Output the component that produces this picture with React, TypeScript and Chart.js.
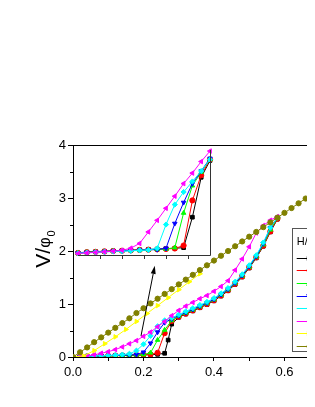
import React, { useEffect, useRef } from 'react';
import { Chart, registerables } from 'chart.js';

Chart.register(...registerables);

const FONT = '"Liberation Sans", Arial, Helvetica, sans-serif';

// ---------- main plot data (x = H-ish axis, y = V/phi0) ----------
const blackData: [number, number][] = [
  [0.02, 0.01], [0.04, 0.01], [0.06, 0.015], [0.08, 0.02], [0.10, 0.02], [0.12, 0.025], [0.14, 0.03],
  [0.16, 0.03], [0.18, 0.035], [0.20, 0.04], [0.22, 0.045], [0.24, 0.05], [0.26, 0.07], [0.27, 0.32],
  [0.28, 0.62], [0.30, 0.75], [0.32, 0.81], [0.34, 0.87], [0.36, 0.93], [0.38, 0.99], [0.40, 1.06],
  [0.42, 1.15], [0.44, 1.25], [0.46, 1.37], [0.48, 1.51], [0.50, 1.68], [0.52, 1.87], [0.54, 2.09],
  [0.56, 2.36], [0.58, 2.60],
];
const redData: [number, number][] = [
  [0.02, 0.01], [0.04, 0.012], [0.06, 0.015], [0.08, 0.02], [0.10, 0.022], [0.12, 0.026], [0.14, 0.03],
  [0.16, 0.034], [0.18, 0.038], [0.20, 0.042], [0.22, 0.05], [0.24, 0.08], [0.26, 0.45], [0.28, 0.68],
  [0.30, 0.76], [0.32, 0.82], [0.34, 0.88], [0.36, 0.94], [0.38, 1.00], [0.40, 1.07], [0.42, 1.16],
  [0.44, 1.26], [0.46, 1.38], [0.48, 1.52], [0.50, 1.69], [0.52, 1.88], [0.54, 2.10], [0.56, 2.37],
  [0.58, 2.61],
];
const greenData: [number, number][] = [
  [0.02, 0.01], [0.04, 0.012], [0.06, 0.016], [0.08, 0.02], [0.10, 0.023], [0.12, 0.027], [0.14, 0.031],
  [0.16, 0.035], [0.18, 0.04], [0.20, 0.045], [0.22, 0.08], [0.24, 0.32], [0.26, 0.51], [0.28, 0.69],
  [0.30, 0.77], [0.32, 0.83], [0.34, 0.89], [0.36, 0.95], [0.38, 1.01], [0.40, 1.08], [0.42, 1.17],
  [0.44, 1.27], [0.46, 1.39], [0.48, 1.53], [0.50, 1.70], [0.52, 1.89], [0.54, 2.12], [0.56, 2.40],
  [0.58, 2.62],
];
const blueData: [number, number][] = [
  [0.02, 0.01], [0.04, 0.013], [0.06, 0.017], [0.08, 0.021], [0.10, 0.025], [0.12, 0.029], [0.14, 0.033],
  [0.16, 0.037], [0.18, 0.045], [0.20, 0.09], [0.22, 0.26], [0.24, 0.47], [0.26, 0.65], [0.28, 0.72],
  [0.30, 0.78], [0.32, 0.84], [0.34, 0.90], [0.36, 0.96], [0.38, 1.02], [0.40, 1.09], [0.42, 1.18],
  [0.44, 1.28], [0.46, 1.40], [0.48, 1.54], [0.50, 1.71], [0.52, 1.90], [0.54, 2.14], [0.56, 2.44],
  [0.58, 2.63],
];
const cyanData: [number, number][] = [
  [0.02, 0.01], [0.04, 0.015], [0.06, 0.02], [0.08, 0.025], [0.10, 0.03], [0.12, 0.035], [0.14, 0.045],
  [0.16, 0.06], [0.18, 0.12], [0.20, 0.24], [0.22, 0.40], [0.24, 0.58], [0.26, 0.69], [0.28, 0.74],
  [0.30, 0.80], [0.32, 0.86], [0.34, 0.92], [0.36, 0.98], [0.38, 1.04], [0.40, 1.11], [0.42, 1.20],
  [0.44, 1.30], [0.46, 1.42], [0.48, 1.56], [0.50, 1.73], [0.52, 1.92], [0.54, 2.16], [0.56, 2.44],
  [0.58, 2.63],
];
const magentaData: [number, number][] = [
  [0.02, 0.01], [0.04, 0.02], [0.06, 0.04], [0.08, 0.07], [0.10, 0.10], [0.12, 0.14], [0.14, 0.19],
  [0.16, 0.25], [0.18, 0.31], [0.20, 0.39], [0.22, 0.47], [0.24, 0.57], [0.26, 0.67], [0.28, 0.78],
  [0.30, 0.88], [0.32, 0.96], [0.34, 1.03], [0.36, 1.10], [0.38, 1.16], [0.40, 1.24], [0.42, 1.33],
  [0.44, 1.44], [0.46, 1.64], [0.48, 1.85], [0.50, 2.08], [0.52, 2.34], [0.54, 2.48], [0.56, 2.58],
  [0.58, 2.65],
];
const yellowData: [number, number][] = [
  [0.00, 0.0], [0.03, 0.02], [0.06, 0.12], [0.09, 0.25], [0.12, 0.38], [0.15, 0.52], [0.18, 0.67],
  [0.21, 0.82], [0.24, 0.97], [0.27, 1.12], [0.30, 1.27], [0.33, 1.42], [0.36, 1.57],
];
const oliveData: [number, number][] = [
  [0.00, 0.0], [0.02, 0.09], [0.04, 0.18], [0.06, 0.28], [0.08, 0.37], [0.10, 0.46], [0.12, 0.55],
  [0.14, 0.64], [0.16, 0.73], [0.18, 0.83], [0.20, 0.92], [0.22, 1.01], [0.24, 1.10], [0.26, 1.19],
  [0.28, 1.28], [0.30, 1.37], [0.32, 1.46], [0.34, 1.55], [0.36, 1.64], [0.38, 1.73], [0.40, 1.82],
  [0.42, 1.91], [0.44, 2.00], [0.46, 2.09], [0.48, 2.18], [0.50, 2.27], [0.52, 2.36], [0.54, 2.45],
  [0.56, 2.54], [0.58, 2.63], [0.60, 2.72], [0.62, 2.81], [0.64, 2.90], [0.66, 2.99], [0.68, 3.08],
  [0.70, 3.17], [0.72, 3.26],
];

// ---------- inset data ----------
const insetX = [0, 0.4, 0.8, 1.2, 1.6, 2.0, 2.4, 2.8, 3.2, 3.6, 4.0, 4.4, 4.8, 5.2, 5.6, 6.0];
const insetBlack = [0.02, 0.028, 0.032, 0.036, 0.04, 0.043, 0.046, 0.05, 0.053, 0.056, 0.06, 0.064, 0.07, 0.36, 0.74, 0.9];
const insetRed = [0.02, 0.026, 0.03, 0.034, 0.038, 0.041, 0.044, 0.048, 0.051, 0.054, 0.058, 0.062, 0.09, 0.52, 0.76, 0.91];
const insetGreen = [0.02, 0.025, 0.029, 0.033, 0.037, 0.04, 0.043, 0.047, 0.05, 0.053, 0.057, 0.07, 0.4, 0.66, 0.79, 0.91];
const insetBlue = [0.018, 0.024, 0.028, 0.032, 0.036, 0.039, 0.042, 0.046, 0.049, 0.052, 0.064, 0.3, 0.5, 0.68, 0.8, 0.92];
const insetCyan = [0.016, 0.022, 0.026, 0.03, 0.034, 0.037, 0.04, 0.044, 0.048, 0.064, 0.29, 0.48, 0.6, 0.7, 0.8, 0.91];
const insetMagenta = [0.014, 0.02, 0.025, 0.03, 0.036, 0.045, 0.065, 0.11, 0.22, 0.33, 0.445, 0.56, 0.68, 0.78, 0.89, 0.99];

// ---------- labels ----------
const legendTitle = 'H/H';
const legendTitleSub = 'c2';
const seriesLabels = ['0.1', '0.2', '0.3', '0.4', '0.5', '0.6', '0.7', '0.8'];
const xTickLabels = ['0.0', '0.2', '0.4', '0.6', '0.8'];
const yTickLabels = ['0', '1', '2', '3', '4'];
const arrowTail = [0.193, 0.40];
const arrowHead = [0.232, 1.72];

// styles
const colors = ['#000000', '#ff0000', '#00ff00', '#0000ff', '#00ffff', '#ff00ff', '#ffff00', '#808000'];
const pointStyles = ['rect', 'circle', 'triangle', 'triangle', 'rectRot', 'triangle', 'triangle', 'circle'];
const rotations = [0, 0, 0, 180, 0, -90, 90, 0];
const marks = ['rect', 'circle', 'up', 'down', 'diamond', 'left', 'right', 'circle'];

const mainSeries = [blackData, redData, greenData, blueData, cyanData, magentaData, yellowData, oliveData];
const insetSeries = [insetBlack, insetRed, insetGreen, insetBlue, insetCyan, insetMagenta];

function drawMark(ctx: CanvasRenderingContext2D, kind: string, x: number, y: number, r: number, color: string) {
  ctx.save();
  ctx.fillStyle = color;
  ctx.strokeStyle = color;
  ctx.lineWidth = 1;
  ctx.beginPath();
  switch (kind) {
    case 'rect':
      ctx.rect(x - r * 0.8, y - r * 0.8, r * 1.6, r * 1.6);
      break;
    case 'circle':
      ctx.arc(x, y, r * 0.9, 0, Math.PI * 2);
      break;
    case 'up':
      ctx.moveTo(x, y - r); ctx.lineTo(x + r, y + r * 0.75); ctx.lineTo(x - r, y + r * 0.75); ctx.closePath();
      break;
    case 'down':
      ctx.moveTo(x, y + r); ctx.lineTo(x + r, y - r * 0.75); ctx.lineTo(x - r, y - r * 0.75); ctx.closePath();
      break;
    case 'left':
      ctx.moveTo(x - r, y); ctx.lineTo(x + r * 0.75, y - r); ctx.lineTo(x + r * 0.75, y + r); ctx.closePath();
      break;
    case 'right':
      ctx.moveTo(x + r, y); ctx.lineTo(x - r * 0.75, y - r); ctx.lineTo(x - r * 0.75, y + r); ctx.closePath();
      break;
    case 'diamond':
      ctx.moveTo(x, y - r); ctx.lineTo(x + r, y); ctx.lineTo(x, y + r); ctx.lineTo(x - r, y); ctx.closePath();
      break;
  }
  ctx.fill();
  ctx.stroke();
  ctx.restore();
}

const mainDecor = {
  id: 'mainDecor',
  afterDraw(chart: any) {
    const ctx: CanvasRenderingContext2D = chart.ctx;
    const { left, right, top, bottom } = chart.chartArea;
    const xs = chart.scales.x;
    const ys = chart.scales.y;
    ctx.save();
    // frame top and right
    ctx.strokeStyle = '#000';
    ctx.lineWidth = 1;
    ctx.beginPath();
    ctx.moveTo(left, top + 0.5);
    ctx.lineTo(right, top + 0.5);
    ctx.moveTo(right - 0.5, top);
    ctx.lineTo(right - 0.5, bottom);
    ctx.stroke();
    // minor y ticks
    ctx.beginPath();
    for (let v = 0.5; v < 4; v += 1) {
      const py = Math.round(ys.getPixelForValue(v)) + 0.5;
      ctx.moveTo(left - 3, py);
      ctx.lineTo(left, py);
    }
    ctx.stroke();
    // arrow
    const x1 = xs.getPixelForValue(arrowTail[0]);
    const y1 = ys.getPixelForValue(arrowTail[1]);
    const x2 = xs.getPixelForValue(arrowHead[0]);
    const y2 = ys.getPixelForValue(arrowHead[1]);
    const ang = Math.atan2(y2 - y1, x2 - x1);
    const hl = 8, hw = 2.5;
    const bx = x2 - hl * Math.cos(ang);
    const by = y2 - hl * Math.sin(ang);
    ctx.beginPath();
    ctx.moveTo(x1, y1);
    ctx.lineTo(bx, by);
    ctx.stroke();
    ctx.fillStyle = '#000';
    ctx.beginPath();
    ctx.moveTo(x2, y2);
    ctx.lineTo(bx + hw * Math.sin(ang), by - hw * Math.cos(ang));
    ctx.lineTo(bx - hw * Math.sin(ang), by + hw * Math.cos(ang));
    ctx.closePath();
    ctx.fill();
    // y axis title V/phi_0
    ctx.save();
    ctx.fillStyle = '#000';
    const fV = `21px ${FONT}`;
    const fPhi = `16px ${FONT}`;
    const fSub = `11px ${FONT}`;
    ctx.font = fV;
    const wV = ctx.measureText('V/').width;
    ctx.font = fPhi;
    const wP = ctx.measureText('\u03C6').width;
    ctx.font = fSub;
    const wS = ctx.measureText('0').width;
    const total = wV + wP + wS + 1;
    const cy = 241;
    ctx.translate(42, cy + total / 2);
    ctx.rotate(-Math.PI / 2);
    ctx.textBaseline = 'alphabetic';
    ctx.textAlign = 'left';
    ctx.font = fV;
    ctx.fillText('V/', 0, 0);
    ctx.font = fPhi;
    ctx.fillText('\u03C6', wV, 0);
    ctx.font = fSub;
    ctx.fillText('0', wV + wP + 1, 5);
    ctx.restore();
    // legend box
    const bxL = 284.5, byT = 220.5, bH = 123;
    ctx.fillStyle = '#fff';
    ctx.fillRect(bxL, byT, 120, bH);
    ctx.strokeStyle = '#555';
    ctx.strokeRect(bxL, byT, 120, bH);
    ctx.fillStyle = '#000';
    ctx.font = `11px ${FONT}`;
    ctx.textBaseline = 'alphabetic';
    ctx.fillText(legendTitle, 288.7, 237);
    const tw = ctx.measureText(legendTitle).width;
    ctx.font = `8px ${FONT}`;
    ctx.fillText(legendTitleSub, 288.7 + tw, 240);
    for (let i = 0; i < colors.length; i++) {
      const ly = Math.round(249.7 + 12.6 * i) + 0.5;
      ctx.strokeStyle = colors[i];
      ctx.lineWidth = 1;
      ctx.beginPath();
      ctx.moveTo(288.7, ly);
      ctx.lineTo(316, ly);
      ctx.stroke();
      drawMark(ctx, marks[i], 301.3, ly, 2.6, colors[i]);
      ctx.fillStyle = '#000';
      ctx.font = `11px ${FONT}`;
      ctx.textBaseline = 'middle';
      ctx.fillText(seriesLabels[i], 320, ly);
    }
    ctx.restore();
  },
};

const insetDecor = {
  id: 'insetDecor',
  afterDraw(chart: any) {
    const ctx: CanvasRenderingContext2D = chart.ctx;
    const { left, right, top, bottom } = chart.chartArea;
    const xs = chart.scales.x;
    ctx.save();
    ctx.strokeStyle = '#333';
    ctx.lineWidth = 1;
    ctx.beginPath();
    ctx.moveTo(left, bottom + 0.5);
    ctx.lineTo(right + 0.5, bottom + 0.5);
    ctx.lineTo(right + 0.5, top);
    for (let v = 1; v < 6; v++) {
      const px = Math.round(xs.getPixelForValue(v)) + 0.5;
      ctx.moveTo(px, bottom + 0.5);
      ctx.lineTo(px, bottom + 4);
    }
    ctx.stroke();
    ctx.restore();
  },
};

export default function App() {
  const mainRef = useRef<HTMLCanvasElement | null>(null);
  const insetRef = useRef<HTMLCanvasElement | null>(null);

  useEffect(() => {
    if (!mainRef.current || !insetRef.current) return;
    const mainDatasets = mainSeries.map((pts, i) => ({
      label: seriesLabels[i],
      data: pts.map(([x, y]) => ({ x, y })),
      showLine: true,
      borderColor: colors[i],
      backgroundColor: colors[i],
      borderWidth: 1,
      pointStyle: pointStyles[i],
      rotation: rotations[i],
      pointRadius: 2.6,
      pointBorderWidth: 1,
      pointBorderColor: colors[i],
      pointBackgroundColor: colors[i],
      order: 10 - i,
    }));

    const main = new Chart(mainRef.current, {
      type: 'scatter',
      data: { datasets: mainDatasets as any },
      options: {
        animation: false,
        responsive: false,
        maintainAspectRatio: false,
        events: [],
        layout: { padding: { left: 0, top: 137, right: 13, bottom: 12 } },
        plugins: { legend: { display: false }, tooltip: { enabled: false } },
        scales: {
          x: {
            type: 'linear',
            min: 0,
            max: 0.8,
            afterFit: (s: any) => { s.height = 30; },
            border: { display: true, color: '#000', width: 1 },
            grid: { drawOnChartArea: false, drawTicks: true, tickLength: 4, color: '#000' },
            ticks: {
              stepSize: 0.1,
              autoSkip: false,
              maxRotation: 0,
              padding: 4,
              color: '#000',
              font: { family: FONT, size: 13 },
              callback: (v: any) => {
                const k = Math.round(Number(v) * 10);
                return k % 2 === 0 ? xTickLabels[k / 2] : '';
              },
            },
          },
          y: {
            type: 'linear',
            min: 0,
            max: 4,
            afterFit: (s: any) => { s.width = 65; },
            border: { display: true, color: '#000', width: 1 },
            grid: { drawOnChartArea: false, drawTicks: true, tickLength: 5, color: '#000' },
            ticks: {
              stepSize: 1,
              padding: 2,
              color: '#000',
              font: { family: FONT, size: 13 },
              callback: (v: any) => yTickLabels[Math.round(Number(v))],
            },
          },
        },
      },
      plugins: [mainDecor],
    });

    const insetDatasets = insetSeries.map((vals, i) => ({
      label: seriesLabels[i],
      data: vals.map((y, j) => ({ x: insetX[j], y })),
      showLine: true,
      borderColor: colors[i],
      backgroundColor: colors[i],
      borderWidth: 1,
      pointStyle: pointStyles[i],
      rotation: rotations[i],
      pointRadius: 2.6,
      pointBorderWidth: 1,
      pointBorderColor: colors[i],
      pointBackgroundColor: colors[i],
      order: 10 - i,
      clip: false as any,
    }));

    const inset = new Chart(insetRef.current, {
      type: 'scatter',
      data: { datasets: insetDatasets as any },
      options: {
        animation: false,
        responsive: false,
        maintainAspectRatio: false,
        events: [],
        layout: { padding: { left: 0, top: 0, right: 3, bottom: 6 } },
        plugins: { legend: { display: false }, tooltip: { enabled: false } },
        scales: {
          x: { type: 'linear', min: 0, max: 6, display: false },
          y: { type: 'linear', min: 0, max: 1, display: false },
        },
      },
      plugins: [insetDecor],
    });

    return () => {
      main.destroy();
      inset.destroy();
    };
  }, []);

  return (
    <div style={{ position: 'relative', width: 307, height: 399, overflow: 'hidden' }}>
      <canvas ref={mainRef} width={360} height={391} style={{ position: 'absolute', left: 0, top: 0, width: 360, height: 391 }} />
      <canvas ref={insetRef} width={142} height={116} style={{ position: 'absolute', left: 65, top: 137, width: 142, height: 116 }} />
    </div>
  );
}
